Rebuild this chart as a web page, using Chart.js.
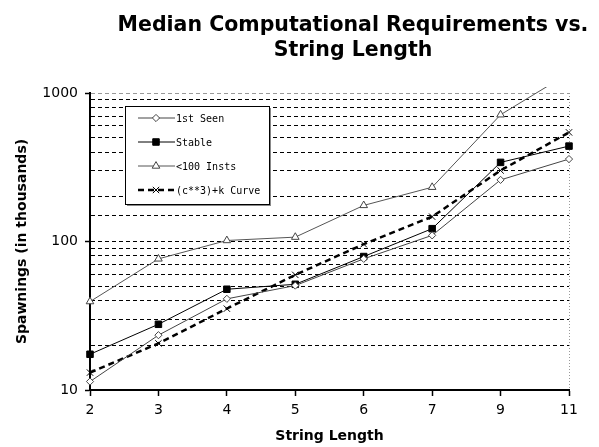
<!DOCTYPE html>
<html>
<head>
<meta charset="utf-8">
<title>Median Computational Requirements vs. String Length</title>
<script src="https://cdn.jsdelivr.net/npm/chart.js@4.4.1/dist/chart.umd.min.js"></script>
<style>
    html, body { margin: 0; padding: 0; background: #fff; }
    #wrap { width: 599px; height: 447px; }
</style>
</head>
<body>
<div id="wrap"><canvas id="chart" width="599" height="447"></canvas></div>
<script>
    // --- Daten ---
    const stringLengths = ['2', '3', '4', '5', '6', '7', '9', '11'];
    const firstSeen   = [11.4, 23.4, 41.1, 50.5, 76.4, 110, 260, 359];
    const stable      = [17.4, 27.7, 47.7, 51.5, 79.2, 122, 341, 439];
    const under100    = [39.4, 76.4, 101.6, 107, 175, 232, 714, 1360];
    const cubeCurve   = [13.1, 20.6, 35.3, 59.6, 96, 147, 301, 543];
    const yLabelTicks = [10, 100, 1000];

    const titleLines = ['Median Computational Requirements vs.', 'String Length'];

    // --- Titel (zwei Zeilen, leicht rechts der Mitte) ---
    const titlePlugin = {
        id: 'twoLineTitle',
        afterDraw(chart) {
            const ctx = chart.ctx;
            ctx.save();
            ctx.fillStyle = '#000';
            ctx.font = 'bold 20.5px "DejaVu Sans"';
            ctx.textAlign = 'center';
            ctx.textBaseline = 'middle';
            ctx.fillText(titleLines[0], 353, 26);
            ctx.fillText(titleLines[1], 353, 51);
            ctx.restore();
        }
    };

    // --- Legende im Diagramm (Linie + Marker wie im Original) ---
    const boxLegend = {
        id: 'boxLegend',
        afterDraw(chart) {
            const ctx = chart.ctx;
            const x0 = 125, y0 = 106, w = 144, h = 98;
            ctx.save();
            ctx.fillStyle = '#888';
            ctx.fillRect(x0 + 2, y0 + 2, w, h);
            ctx.fillStyle = '#fff';
            ctx.fillRect(x0, y0, w, h);
            ctx.strokeStyle = '#000';
            ctx.lineWidth = 1;
            ctx.strokeRect(x0 + 0.5, y0 + 0.5, w, h);

            const rows = [118, 142, 166, 190];
            chart.data.datasets.forEach((ds, i) => {
                const y = rows[i];
                ctx.save();
                ctx.strokeStyle = ds.borderColor;
                ctx.lineWidth = ds.borderWidth;
                ctx.setLineDash(ds.borderDash || []);
                ctx.beginPath();
                ctx.moveTo(138, y);
                ctx.lineTo(175, y);
                ctx.stroke();
                ctx.restore();

                ctx.save();
                ctx.fillStyle = ds.pointBackgroundColor;
                ctx.strokeStyle = ds.pointBorderColor;
                ctx.lineWidth = ds.pointBorderWidth;
                if (Chart.helpers && Chart.helpers.drawPoint) {
                    Chart.helpers.drawPoint(ctx, {
                        pointStyle: ds.pointStyle,
                        rotation: 0,
                        radius: ds.pointRadius,
                        borderWidth: ds.pointBorderWidth
                    }, 156, y);
                }
                ctx.restore();

                ctx.fillStyle = '#000';
                ctx.font = '10px "DejaVu Sans Mono"';
                ctx.textAlign = 'left';
                ctx.textBaseline = 'middle';
                ctx.fillText(ds.label, 176, y + 1);
            });
            ctx.restore();
        }
    };

    const ctx = document.getElementById('chart').getContext('2d');
    new Chart(ctx, {
        type: 'line',
        data: {
            labels: stringLengths,
            datasets: [
                {
                    label: '1st Seen',
                    data: firstSeen,
                    borderColor: '#444',
                    borderWidth: 1,
                    pointStyle: 'rectRot',
                    pointRadius: 3.6,
                    pointBackgroundColor: '#fff',
                    pointBorderColor: '#444',
                    pointBorderWidth: 1
                },
                {
                    label: 'Stable',
                    data: stable,
                    borderColor: '#000',
                    borderWidth: 1,
                    pointStyle: 'rect',
                    pointRadius: 4.6,
                    pointBackgroundColor: '#000',
                    pointBorderColor: '#000',
                    pointBorderWidth: 1
                },
                {
                    label: '<100 Insts',
                    data: under100,
                    borderColor: '#555',
                    borderWidth: 1,
                    pointStyle: 'triangle',
                    pointRadius: 4.4,
                    pointBackgroundColor: '#fff',
                    pointBorderColor: '#444',
                    pointBorderWidth: 1
                },
                {
                    label: '(c**3)+k Curve',
                    data: cubeCurve,
                    borderColor: '#000',
                    borderWidth: 2.5,
                    borderDash: [6, 4],
                    pointStyle: 'crossRot',
                    pointRadius: 4.5,
                    pointBackgroundColor: '#000',
                    pointBorderColor: '#000',
                    pointBorderWidth: 1
                }
            ]
        },
        options: {
            responsive: false,
            devicePixelRatio: 1,
            animation: false,
            elements: { line: { tension: 0 } },
            layout: { padding: { top: 93, right: 30, bottom: 0, left: 0 } },
            datasets: { line: { clip: { left: 8, top: 6, right: 8, bottom: 8 } } },
            plugins: {
                legend: { display: false },
                title: { display: false },
                tooltip: { enabled: false }
            },
            scales: {
                x: {
                    type: 'category',
                    offset: false,
                    afterFit(scale) { scale.height = 57; },
                    border: { display: true, color: '#000', width: 2, dash: [1, 2] },
                    grid: {
                        drawOnChartArea: true,
                        color: (c) => (c.index === stringLengths.length - 1 ? '#999' : 'rgba(0,0,0,0)'),
                        tickColor: '#000',
                        tickLength: 6,
                        tickWidth: 1.5
                    },
                    ticks: {
                        color: '#000',
                        font: { family: '"DejaVu Sans"', size: 14 },
                        padding: 6,
                        maxRotation: 0,
                        autoSkip: false
                    },
                    title: {
                        display: true,
                        text: 'String Length',
                        color: '#000',
                        font: { family: '"DejaVu Sans"', size: 14, weight: 'bold' },
                        padding: { top: 0, bottom: 2 }
                    }
                },
                y: {
                    type: 'logarithmic',
                    min: 10,
                    max: 1000,
                    afterFit(scale) { scale.width = 90; },
                    border: { display: true, color: '#000', width: 2, dash: [4, 3] },
                    grid: {
                        color: (c) => (c.tick && c.tick.value === 1000 ? '#999' : '#000'),
                        tickColor: (c) => (c.tick && yLabelTicks.includes(c.tick.value) ? '#000' : 'rgba(0,0,0,0)'),
                        tickLength: 5,
                        tickWidth: 1.5
                    },
                    ticks: {
                        color: '#000',
                        autoSkip: false,
                        padding: 7,
                        font: { family: '"DejaVu Sans"', size: 14 },
                        callback: (v) => (yLabelTicks.includes(v) ? String(v) : '')
                    },
                    title: {
                        display: true,
                        text: 'Spawnings (in thousands)',
                        color: '#000',
                        font: { family: '"DejaVu Sans"', size: 14, weight: 'bold' },
                        padding: { top: 14, bottom: 0 }
                    }
                }
            }
        },
        plugins: [titlePlugin, boxLegend]
    });
</script>
</body>
</html>
